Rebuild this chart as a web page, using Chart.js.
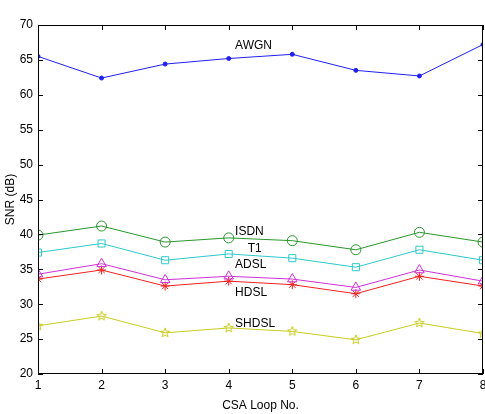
<!DOCTYPE html>
<html>
<head>
<meta charset="utf-8">
<script src="https://cdn.jsdelivr.net/npm/chart.js@4/dist/chart.umd.min.js"></script>
<style>
  html, body { margin: 0; padding: 0; background: #fff; }
  #wrap { width: 485px; height: 414px; }
</style>
</head>
<body>
<div id="wrap"><canvas id="snrChart" width="485" height="414"></canvas></div>
<script>
const loops = [1, 2, 3, 4, 5, 6, 7, 8];
const awgn  = [65.5, 62.4, 64.4, 65.2, 65.8, 63.5, 62.7, 67.2];
const isdn  = [39.9, 41.2, 38.9, 39.5, 39.1, 37.8, 40.3, 38.9];
const t1    = [37.4, 38.7, 36.3, 37.2, 36.6, 35.3, 37.8, 36.3];
const adsl  = [34.3, 35.8, 33.5, 34.0, 33.6, 32.4, 34.9, 33.3];
const hdsl  = [33.6, 34.9, 32.6, 33.3, 32.8, 31.5, 34.0, 32.6];
const shdsl = [26.9, 28.3, 25.9, 26.6, 26.1, 24.9, 27.3, 25.8];
const yTicks = [20, 25, 30, 35, 40, 45, 50, 55, 60, 65, 70];

// label text placed next to each curve (data coordinates)
const curveLabels = [
    { text: 'AWGN',  x: 4.1,  y: 67.0 },
    { text: 'ISDN',  x: 4.1,  y: 40.35 },
    { text: 'T1',    x: 4.3,  y: 38.0 },
    { text: 'ADSL',  x: 4.1,  y: 35.65 },
    { text: 'HDSL',  x: 4.1,  y: 31.7 },
    { text: 'SHDSL', x: 4.1,  y: 27.2 }
];

const FONT = '"Liberation Sans", Arial, sans-serif';

// pentagram marker (matlab 'p')
function makeStar(color, r) {
    const c = document.createElement('canvas');
    const s = r * 2 + 4;
    c.width = s; c.height = s;
    const g = c.getContext('2d');
    g.strokeStyle = color;
    g.lineWidth = 1;
    g.beginPath();
    for (let i = 0; i < 10; i++) {
        const rad = i % 2 === 0 ? r : r * 0.42;
        const a = -Math.PI / 2 + i * Math.PI / 5;
        const px = s / 2 + rad * Math.cos(a), py = s / 2 + rad * Math.sin(a);
        if (i === 0) g.moveTo(px, py); else g.lineTo(px, py);
    }
    g.closePath();
    g.stroke();
    return c;
}

function series(label, values, color, style, radius, filled) {
    return {
        label,
        data: loops.map((x, i) => ({ x, y: values[i] })),
        borderColor: color,
        borderWidth: 1,
        pointStyle: style,
        pointRadius: radius,
        pointBorderColor: color,
        pointBackgroundColor: filled ? color : 'rgba(0,0,0,0)',
        pointBorderWidth: 1,
        tension: 0
    };
}

// matlab style box with inward ticks, x tick labels and curve labels
const matlabBox = {
    id: 'matlabBox',
    afterDatasetsDraw(chart) {
        const { ctx, chartArea: a, scales } = chart;
        ctx.save();
        ctx.strokeStyle = '#000';
        ctx.lineWidth = 1;
        ctx.strokeRect(a.left + 0.5, a.top + 0.5, a.right - a.left - 1, a.bottom - a.top - 1);
        ctx.beginPath();
        loops.forEach(v => {
            const px = Math.round(scales.x.getPixelForValue(v)) + 0.5;
            ctx.moveTo(px, a.bottom); ctx.lineTo(px, a.bottom - 5);
            ctx.moveTo(px, a.top); ctx.lineTo(px, a.top + 5);
        });
        yTicks.forEach(v => {
            const py = Math.round(scales.y.getPixelForValue(v)) + 0.5;
            ctx.moveTo(a.left, py); ctx.lineTo(a.left + 5, py);
            ctx.moveTo(a.right, py); ctx.lineTo(a.right - 5, py);
        });
        ctx.stroke();

        ctx.fillStyle = '#000';
        ctx.font = '12px ' + FONT;
        ctx.textBaseline = 'middle';
        ctx.textAlign = 'center';
        loops.forEach(v => {
            ctx.fillText(String(v), scales.x.getPixelForValue(v), a.bottom + 12);
        });
        ctx.textAlign = 'left';
        curveLabels.forEach(l => {
            ctx.fillText(l.text, scales.x.getPixelForValue(l.x), scales.y.getPixelForValue(l.y));
        });
        ctx.restore();
    }
};

new Chart(document.getElementById('snrChart').getContext('2d'), {
    type: 'line',
    data: {
        datasets: [
            series('AWGN', awgn, '#2020f0', 'circle', 2, true),
            series('ISDN', isdn, '#2a962a', 'circle', 5, false),
            series('T1', t1, '#2ec8cc', 'rect', 5, false),
            series('ADSL', adsl, '#d030d8', 'triangle', 5.5, false),
            series('HDSL', hdsl, '#f02020', 'star', 4.5, false),
            series('SHDSL', shdsl, '#c8cc20', makeStar('#c8cc20', 5), 5, false)
        ]
    },
    options: {
        responsive: false,
        animation: false,
        layout: { autoPadding: false, padding: { top: 25, right: 2, left: 0, bottom: 0 } },
        plugins: { legend: { display: false }, tooltip: { enabled: false } },
        scales: {
            x: {
                type: 'linear', min: 1, max: 8,
                afterBuildTicks: s => { s.ticks = loops.map(v => ({ value: v })); },
                afterFit: s => { s.height = 40; },
                grid: { drawOnChartArea: false, drawTicks: false },
                border: { display: false },
                ticks: { display: false },
                title: { display: true, text: 'CSA Loop No.', color: '#000', padding: { top: 2, bottom: 1 }, font: { family: FONT, size: 12 } }
            },
            y: {
                min: 20, max: 70,
                afterBuildTicks: s => { s.ticks = yTicks.map(v => ({ value: v })); },
                afterFit: s => { s.width = 38; },
                grid: { drawOnChartArea: false, drawTicks: false },
                border: { display: false },
                ticks: { color: '#000', padding: 5, font: { family: FONT, size: 12 } },
                title: { display: true, text: 'SNR (dB)', color: '#000', padding: { top: 3, bottom: 0 }, font: { family: FONT, size: 12 } }
            }
        }
    },
    plugins: [matlabBox]
});
</script>
</body>
</html>
